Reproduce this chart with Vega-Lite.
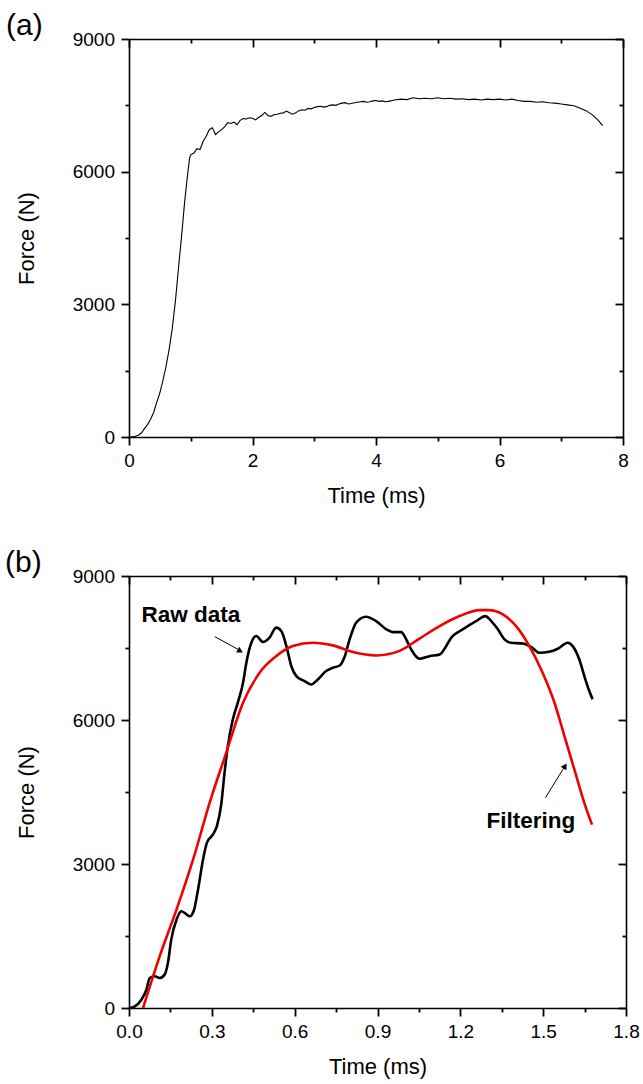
{
  "$schema": "https://vega.github.io/schema/vega-lite/v6.json",
  "padding": {"left": 5, "top": 11, "right": 1, "bottom": 1},
  "background": "white",
  "spacing": 41,
  "config": {
    "view": {"stroke": null},
    "font": "Liberation Sans",
    "axis": {
      "domainColor": "black", "domainWidth": 1.6, "tickColor": "black", "tickWidth": 1.8,
      "labelColor": "black", "labelFont": "Liberation Sans", "labelFontSize": 19, "labelPadding": 6.5,
      "titleColor": "black", "titleFont": "Liberation Sans", "titleFontSize": 22, "titleFontWeight": "normal",
      "grid": false, "labelOverlap": false, "labelFlush": false, "ticks": true
    },
    "axisBottom": {"titlePadding": 15},
    "axisLeft": {"titlePadding": 34},
    "title": {"font": "Liberation Sans", "fontSize": 30, "fontWeight": "normal", "color": "black", "anchor": "start", "frame": "group"}
  },
  "datasets": {
    "raw": [
      {"t":0,"F":0},{"t":0.021,"F":35},{"t":0.045,"F":173},{"t":0.063,"F":380},{"t":0.075,"F":625},{"t":0.093,"F":660},{"t":0.111,"F":625},{"t":0.129,"F":695},{"t":0.141,"F":940},{"t":0.153,"F":1425},{"t":0.172,"F":1840},{"t":0.19,"F":2015},{"t":0.205,"F":1965},{"t":0.22,"F":1910},{"t":0.234,"F":2015},{"t":0.25,"F":2465},{"t":0.268,"F":3090},{"t":0.282,"F":3440},{"t":0.304,"F":3615},{"t":0.318,"F":3785},{"t":0.334,"F":4240},{"t":0.346,"F":4900},{"t":0.358,"F":5455},{"t":0.376,"F":6010},{"t":0.394,"F":6360},{"t":0.413,"F":6775},{"t":0.425,"F":7195},{"t":0.443,"F":7610},{"t":0.461,"F":7750},{"t":0.485,"F":7625},{"t":0.509,"F":7715},{"t":0.533,"F":7925},{"t":0.552,"F":7850},{"t":0.57,"F":7540},{"t":0.588,"F":7120},{"t":0.606,"F":6915},{"t":0.636,"F":6810},{"t":0.66,"F":6740},{"t":0.684,"F":6845},{"t":0.714,"F":7020},{"t":0.738,"F":7090},{"t":0.763,"F":7135},{"t":0.78,"F":7300},{"t":0.799,"F":7680},{"t":0.823,"F":8030},{"t":0.859,"F":8150},{"t":0.895,"F":8060},{"t":0.932,"F":7890},{"t":0.956,"F":7830},{"t":0.986,"F":7830},{"t":1.004,"F":7680},{"t":1.022,"F":7470},{"t":1.052,"F":7275},{"t":1.088,"F":7330},{"t":1.125,"F":7365},{"t":1.149,"F":7540},{"t":1.167,"F":7715},{"t":1.197,"F":7850},{"t":1.227,"F":7955},{"t":1.257,"F":8060},{"t":1.291,"F":8165},{"t":1.312,"F":8060},{"t":1.336,"F":7890},{"t":1.36,"F":7680},{"t":1.384,"F":7610},{"t":1.426,"F":7595},{"t":1.456,"F":7525},{"t":1.486,"F":7400},{"t":1.522,"F":7420},{"t":1.553,"F":7485},{"t":1.589,"F":7610},{"t":1.607,"F":7540},{"t":1.631,"F":7260},{"t":1.649,"F":6915},{"t":1.665,"F":6635},{"t":1.679,"F":6430}
    ],
    "filt": [
      {"t":0.051,"F":0},{"t":0.111,"F":1075},{"t":0.172,"F":2050},{"t":0.232,"F":3090},{"t":0.292,"F":4275},{"t":0.352,"F":5315},{"t":0.413,"F":6360},{"t":0.473,"F":6985},{"t":0.533,"F":7330},{"t":0.594,"F":7540},{"t":0.666,"F":7610},{"t":0.738,"F":7555},{"t":0.811,"F":7415},{"t":0.895,"F":7345},{"t":0.98,"F":7440},{"t":1.052,"F":7695},{"t":1.125,"F":7955},{"t":1.197,"F":8165},{"t":1.27,"F":8290},{"t":1.305,"F":8290},{"t":1.354,"F":8200},{"t":1.402,"F":7955},{"t":1.45,"F":7540},{"t":1.498,"F":6985},{"t":1.541,"F":6360},{"t":1.577,"F":5665},{"t":1.613,"F":4970},{"t":1.649,"F":4275},{"t":1.677,"F":3820}
    ],
    "notes": [
      {"label":"Raw data","t":0.045,"F":8034},
      {"label":"Filtering","t":1.295,"F":3743}
    ],
    "arrows": [
      {"name":"raw","t":0.311,"F":7736,"t2":0.405,"F2":7440},
      {"name":"filt","t":1.508,"F":4379,"t2":1.579,"F2":5040}
    ],
    "heads": [
      {"name":"raw","t":0.4032,"F":7437},
      {"name":"filt","t":1.5794,"F":5042}
    ],
    "a": [
      {"t":0,"F":0},{"t":0.05,"F":5},{"t":0.1,"F":15},{"t":0.15,"F":40},{"t":0.2,"F":90},{"t":0.25,"F":190},{"t":0.3,"F":280},{"t":0.35,"F":400},{"t":0.4,"F":560},{"t":0.45,"F":790},{"t":0.5,"F":1000},{"t":0.55,"F":1280},{"t":0.6,"F":1600},{"t":0.65,"F":1980},{"t":0.7,"F":2450},{"t":0.75,"F":3050},{"t":0.8,"F":3800},{"t":0.85,"F":4520},{"t":0.9,"F":5300},{"t":0.95,"F":5950},{"t":0.98,"F":6300},{"t":1.0,"F":6380},{"t":1.05,"F":6420},{"t":1.1,"F":6520},{"t":1.15,"F":6500},{"t":1.2,"F":6680},{"t":1.25,"F":6800},{"t":1.3,"F":6950},{"t":1.35,"F":6990},{"t":1.4,"F":6840},{"t":1.45,"F":6900},{"t":1.5,"F":6950},{"t":1.55,"F":7020},{"t":1.6,"F":7110},{"t":1.65,"F":7090},{"t":1.7,"F":7120},{"t":1.75,"F":7060},{"t":1.8,"F":7160},{"t":1.85,"F":7200},{"t":1.9,"F":7190},{"t":1.95,"F":7220},{"t":2.0,"F":7210},{"t":2.05,"F":7170},{"t":2.1,"F":7230},{"t":2.15,"F":7270},{"t":2.2,"F":7340},{"t":2.25,"F":7270},{"t":2.3,"F":7250},{"t":2.35,"F":7290},{"t":2.4,"F":7300},{"t":2.45,"F":7320},{"t":2.5,"F":7330},{"t":2.55,"F":7370},{"t":2.6,"F":7330},{"t":2.65,"F":7300},{"t":2.7,"F":7330},{"t":2.75,"F":7380},{"t":2.8,"F":7400},{"t":2.85,"F":7390},{"t":2.9,"F":7430},{"t":2.95,"F":7420},{"t":3.0,"F":7450},{"t":3.05,"F":7470},{"t":3.1,"F":7480},{"t":3.15,"F":7460},{"t":3.2,"F":7470},{"t":3.25,"F":7500},{"t":3.3,"F":7510},{"t":3.35,"F":7500},{"t":3.4,"F":7530},{"t":3.45,"F":7550},{"t":3.5,"F":7560},{"t":3.55,"F":7530},{"t":3.6,"F":7540},{"t":3.65,"F":7560},{"t":3.7,"F":7570},{"t":3.75,"F":7580},{"t":3.8,"F":7590},{"t":3.85,"F":7570},{"t":3.9,"F":7580},{"t":3.95,"F":7600},{"t":4.0,"F":7610},{"t":4.05,"F":7590},{"t":4.1,"F":7600},{"t":4.15,"F":7580},{"t":4.2,"F":7590},{"t":4.3,"F":7620},{"t":4.4,"F":7640},{"t":4.5,"F":7630},{"t":4.6,"F":7670},{"t":4.7,"F":7650},{"t":4.8,"F":7660},{"t":4.9,"F":7650},{"t":5.0,"F":7670},{"t":5.1,"F":7650},{"t":5.2,"F":7660},{"t":5.3,"F":7640},{"t":5.4,"F":7650},{"t":5.5,"F":7630},{"t":5.6,"F":7640},{"t":5.7,"F":7620},{"t":5.8,"F":7640},{"t":5.9,"F":7630},{"t":6.0,"F":7640},{"t":6.1,"F":7620},{"t":6.2,"F":7640},{"t":6.3,"F":7610},{"t":6.4,"F":7590},{"t":6.5,"F":7590},{"t":6.6,"F":7570},{"t":6.7,"F":7580},{"t":6.8,"F":7560},{"t":6.9,"F":7550},{"t":7.0,"F":7530},{"t":7.1,"F":7510},{"t":7.2,"F":7490},{"t":7.3,"F":7440},{"t":7.4,"F":7380},{"t":7.5,"F":7290},{"t":7.6,"F":7160},{"t":7.67,"F":7040}
    ]
  },
  "vconcat": [
    {
      "width": 494, "height": 398,
      "title": {"text": "(a)", "dx": -123, "offset": -11},
      "data": {"name": "a"},
      "layer": [
        {
          "mark": {"type": "line", "color": "black", "strokeWidth": 1.1},
          "encoding": {
            "x": {"field": "t", "type": "quantitative", "scale": {"domain": [0, 8], "nice": false, "zero": false},
              "axis": {"orient": "bottom", "title": "Time (ms)", "values": [0,2,4,6,8], "tickSize": 8}},
            "y": {"field": "F", "type": "quantitative", "scale": {"domain": [0, 9000], "nice": false},
              "axis": {"orient": "left", "title": "Force (N)", "format": "d", "values": [0,3000,6000,9000], "tickSize": 8}}
          }
        },
        {
          "mark": {"type": "line", "strokeOpacity": 0},
          "encoding": {
            "x": {"field": "t", "type": "quantitative",
              "axis": {"orient": "top", "title": null, "labels": false, "values": [0,2,4,6,8], "tickSize": -8}},
            "y": {"field": "F", "type": "quantitative",
              "axis": {"orient": "right", "title": null, "labels": false, "values": [0,3000,6000,9000], "tickSize": -8}}
          }
        },
        {
          "mark": {"type": "line", "strokeOpacity": 0},
          "encoding": {
            "x": {"field": "t", "type": "quantitative",
              "axis": {"orient": "bottom", "title": null, "labels": false, "domain": false, "values": [1,3,5,7], "tickSize": 4}},
            "y": {"field": "F", "type": "quantitative",
              "axis": {"orient": "left", "title": null, "labels": false, "domain": false, "values": [1500,4500,7500], "tickSize": 4}}
          }
        },
        {
          "mark": {"type": "line", "strokeOpacity": 0},
          "encoding": {
            "x": {"field": "t", "type": "quantitative",
              "axis": {"orient": "top", "title": null, "labels": false, "domain": false, "values": [1,3,5,7], "tickSize": -4}},
            "y": {"field": "F", "type": "quantitative",
              "axis": {"orient": "right", "title": null, "labels": false, "domain": false, "values": [1500,4500,7500], "tickSize": -4}}
          }
        }
      ],
      "resolve": {"axis": {"x": "independent", "y": "independent"}}
    },
    {
      "width": 497, "height": 432,
      "title": {"text": "(b)", "dx": -124, "offset": -11},
      "layer": [
        {
          "data": {"name": "raw"},
          "mark": {"type": "line", "color": "black", "strokeWidth": 2.6, "interpolate": "monotone"},
          "encoding": {
            "x": {"field": "t", "type": "quantitative", "scale": {"domain": [0, 1.8], "nice": false, "zero": false},
              "axis": {"orient": "bottom", "title": "Time (ms)", "format": ".1f", "values": [0,0.3,0.6,0.9,1.2,1.5,1.8], "tickSize": 8}},
            "y": {"field": "F", "type": "quantitative", "scale": {"domain": [0, 9000], "nice": false},
              "axis": {"orient": "left", "title": "Force (N)", "format": "d", "values": [0,3000,6000,9000], "tickSize": 8}}
          }
        },
        {
          "data": {"name": "raw"},
          "mark": {"type": "line", "strokeOpacity": 0},
          "encoding": {
            "x": {"field": "t", "type": "quantitative",
              "axis": {"orient": "bottom", "title": null, "labels": false, "domain": false, "values": [0.15,0.45,0.75,1.05,1.35,1.65], "tickSize": 4}},
            "y": {"field": "F", "type": "quantitative",
              "axis": {"orient": "left", "title": null, "labels": false, "domain": false, "values": [1500,4500,7500], "tickSize": 4}}
          }
        },
        {
          "data": {"name": "raw"},
          "mark": {"type": "line", "strokeOpacity": 0},
          "encoding": {
            "x": {"field": "t", "type": "quantitative",
              "axis": {"orient": "top", "title": null, "labels": false, "domain": false, "values": [0.15,0.45,0.75,1.05,1.35,1.65], "tickSize": -4}},
            "y": {"field": "F", "type": "quantitative",
              "axis": {"orient": "right", "title": null, "labels": false, "domain": false, "values": [1500,4500,7500], "tickSize": -4}}
          }
        },
        {
          "data": {"name": "filt"},
          "mark": {"type": "line", "color": "#f00000", "strokeWidth": 2.6, "interpolate": "monotone"},
          "encoding": {
            "x": {"field": "t", "type": "quantitative",
              "axis": {"orient": "top", "title": null, "labels": false, "values": [0,0.3,0.6,0.9,1.2,1.5,1.8], "tickSize": -8}},
            "y": {"field": "F", "type": "quantitative",
              "axis": {"orient": "right", "title": null, "labels": false, "values": [0,3000,6000,9000], "tickSize": -8}}
          }
        },
        {
          "data": {"name": "notes"},
          "mark": {"type": "text", "font": "Liberation Sans", "fontWeight": "bold", "fontSize": 22.5, "align": "left", "baseline": "alphabetic", "color": "black"},
          "encoding": {
            "x": {"field": "t", "type": "quantitative", "axis": null},
            "y": {"field": "F", "type": "quantitative", "axis": null},
            "text": {"field": "label"}
          }
        },
        {
          "data": {"name": "arrows"},
          "mark": {"type": "rule", "color": "black", "strokeWidth": 1},
          "encoding": {
            "x": {"field": "t", "type": "quantitative", "axis": null},
            "y": {"field": "F", "type": "quantitative", "axis": null},
            "x2": {"field": "t2"},
            "y2": {"field": "F2"}
          }
        },
        {
          "data": {"name": "heads"},
          "transform": [{"filter": "datum.name === 'raw'"}],
          "mark": {"type": "point", "shape": "triangle-up", "filled": true, "color": "black", "opacity": 1, "size": 45, "angle": 118},
          "encoding": {
            "x": {"field": "t", "type": "quantitative", "axis": null},
            "y": {"field": "F", "type": "quantitative", "axis": null}
          }
        },
        {
          "data": {"name": "heads"},
          "transform": [{"filter": "datum.name === 'filt'"}],
          "mark": {"type": "point", "shape": "triangle-up", "filled": true, "color": "black", "opacity": 1, "size": 45, "angle": 32},
          "encoding": {
            "x": {"field": "t", "type": "quantitative", "axis": null},
            "y": {"field": "F", "type": "quantitative", "axis": null}
          }
        }
      ],
      "resolve": {"axis": {"x": "independent", "y": "independent"}}
    }
  ]
}
